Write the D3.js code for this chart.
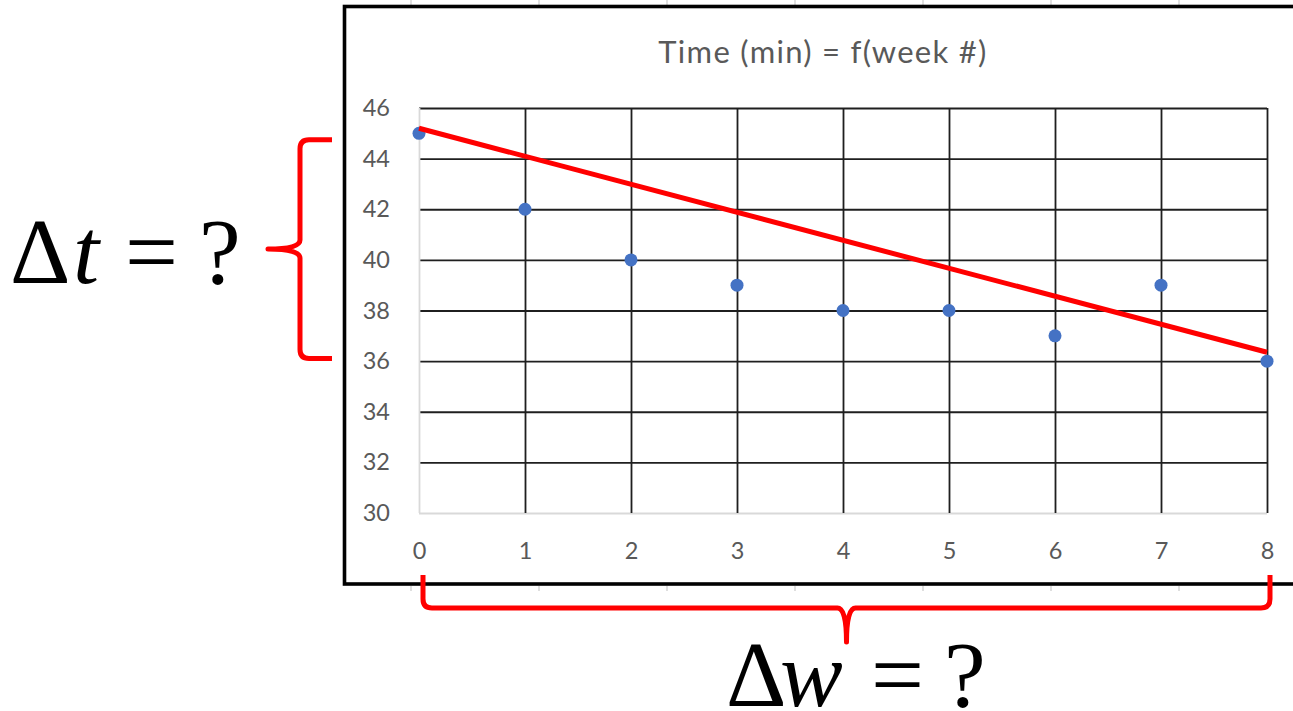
<!DOCTYPE html>
<html>
<head>
<meta charset="utf-8">
<script src="https://cdn.jsdelivr.net/npm/d3@7"></script>
<style>
  html, body { margin: 0; padding: 0; background: #fff; }
  svg { display: block; }
</style>
</head>
<body>
<svg width="1293" height="711"></svg>
<script>
// data
const weeks = [0, 1, 2, 3, 4, 5, 6, 7, 8]
const times = [45, 42, 40, 39, 38, 38, 37, 39, 36]
const trendWeeks = [0, 8]
const trendTimes = [45.2, 36.35]
const yTicks = [30, 32, 34, 36, 38, 40, 42, 44, 46]
const xTicks = [0, 1, 2, 3, 4, 5, 6, 7, 8]
const title = "Time (min) = f(week #)"
// brace spans (in data units)
const braceT = [44.75, 36.1]
const braceW = [0, 8]

const svg = d3.select("svg")
const x = d3.scaleLinear().domain([0, 8]).range([419, 1267])
const y = d3.scaleLinear().domain([30, 46]).range([513, 108])
const grey = "#595959"

// faint spreadsheet column marks outside the chart frame
d3.range(411, 1293, 128).forEach(cx=>{
	svg.append("line").attr("x1", cx).attr("x2", cx).attr("y1", 0).attr("y2", 6)
	  .attr("stroke", "#d4d4d4").attr("stroke-width", 1.5)
	svg.append("line").attr("x1", cx).attr("x2", cx).attr("y1", 586).attr("y2", 591)
	  .attr("stroke", "#d4d4d4").attr("stroke-width", 1.5)
})

// chart frame
svg.append("rect")
  .attr("x", 344.5).attr("y", 6.5)
  .attr("width", 1000).attr("height", 577.5)
  .attr("fill", "#fff")
  .attr("stroke", "#000")
  .attr("stroke-width", 3.6)

svg.append("text")
  .attr("x", 823).attr("y", 63)
  .attr("text-anchor", "middle")
  .attr("font-family", "Lato, 'Open Sans', sans-serif")
  .attr("font-size", 31)
  .attr("letter-spacing", 1.3)
  .attr("fill", grey)
  .text(title)

// y axis + horizontal grid
const yAxis = svg.append("g")
  .attr("transform", `translate(${x(0)},0)`)
  .call(d3.axisLeft(y).tickValues(yTicks).tickSize(-(x(8)-x(0))).tickPadding(29))
yAxis.select(".domain").remove()
yAxis.selectAll(".tick line")
  .attr("stroke", d=> d===30 ? "#d9d9d9" : "#1f1f1f")
  .attr("stroke-width", 1.8)
yAxis.selectAll(".tick text")
  .attr("font-family", "Lato, 'Open Sans', sans-serif")
  .attr("font-size", 23.5)
  .attr("fill", grey)

// x axis + vertical grid
const xAxis = svg.append("g")
  .attr("transform", `translate(0,${y(30)})`)
  .call(d3.axisBottom(x).tickValues(xTicks).tickSize(-(y(30)-y(46))).tickPadding(29))
xAxis.select(".domain").remove()
xAxis.selectAll(".tick line")
  .attr("stroke", d=> d===0 ? "#d9d9d9" : "#1f1f1f")
  .attr("stroke-width", 1.8)
xAxis.selectAll(".tick text")
  .attr("font-family", "Lato, 'Open Sans', sans-serif")
  .attr("font-size", 23.5)
  .attr("fill", grey)

// points
svg.append("g").selectAll("circle")
  .data(weeks.map((w,i)=>[w, times[i]]))
  .join("circle")
    .attr("cx", d=>x(d[0]))
    .attr("cy", d=>y(d[1]))
    .attr("r", 6.5)
    .attr("fill", "#4472C4")

// hand drawn trend line
svg.append("path")
  .datum(trendWeeks.map((w,i)=>[w, trendTimes[i]]))
  .attr("d", d3.line().x(d=>x(d[0])).y(d=>y(d[1])))
  .attr("stroke", "#ff0000")
  .attr("stroke-width", 5)
  .attr("fill", "none")

// left brace for Δt
{
	const t0 = y(braceT[0]), t1 = y(braceT[1]), mid = (t0+t1)/2
	const xe = 332, xv = 300, xt = 268, r = 9
	const p = d3.path()
	p.moveTo(xe, t0)
	p.lineTo(xv+r, t0)
	p.quadraticCurveTo(xv, t0, xv, t0+r)
	p.lineTo(xv, mid-r)
	p.quadraticCurveTo(xv, mid, xt, mid)
	p.quadraticCurveTo(xv, mid, xv, mid+r)
	p.lineTo(xv, t1-r)
	p.quadraticCurveTo(xv, t1, xv+r, t1)
	p.lineTo(xe, t1)
	svg.append("path").attr("d", p.toString())
	  .attr("stroke", "#ff0000").attr("stroke-width", 5)
	  .attr("fill", "none").attr("stroke-linejoin", "round")
}

// bottom brace for Δw
{
	const w0 = x(braceW[0])+4, w1 = x(braceW[1])+3, mid = (w0+w1)/2
	const ye = 575, yh = 608, yt = 642, r = 9
	const p = d3.path()
	p.moveTo(w0, ye)
	p.lineTo(w0, yh-r)
	p.quadraticCurveTo(w0, yh, w0+r, yh)
	p.lineTo(mid-r, yh)
	p.quadraticCurveTo(mid, yh, mid, yt)
	p.quadraticCurveTo(mid, yh, mid+r, yh)
	p.lineTo(w1-r, yh)
	p.quadraticCurveTo(w1, yh, w1, yh-r)
	p.lineTo(w1, ye)
	svg.append("path").attr("d", p.toString())
	  .attr("stroke", "#ff0000").attr("stroke-width", 5)
	  .attr("fill", "none").attr("stroke-linejoin", "round")
}

// equation labels
function eq(base, sym, pos){
	const t = svg.append("text")
	  .attr("y", base)
	  .attr("font-family", "'Liberation Serif', 'DejaVu Serif', serif")
	  .attr("font-size", 94)
	  .attr("fill", "#000")
	t.append("tspan").attr("x", pos[0]).text("\u0394")
	t.append("tspan").attr("x", pos[1]).attr("font-style", "italic").text(sym)
	t.append("tspan").attr("x", pos[2]).text("=")
	t.append("tspan").attr("x", pos[3]).text("?")
}
eq(283, "t", [10, 73, 125, 199])
eq(706, "w", [726, 780, 871, 944])
</script>
</body>
</html>
